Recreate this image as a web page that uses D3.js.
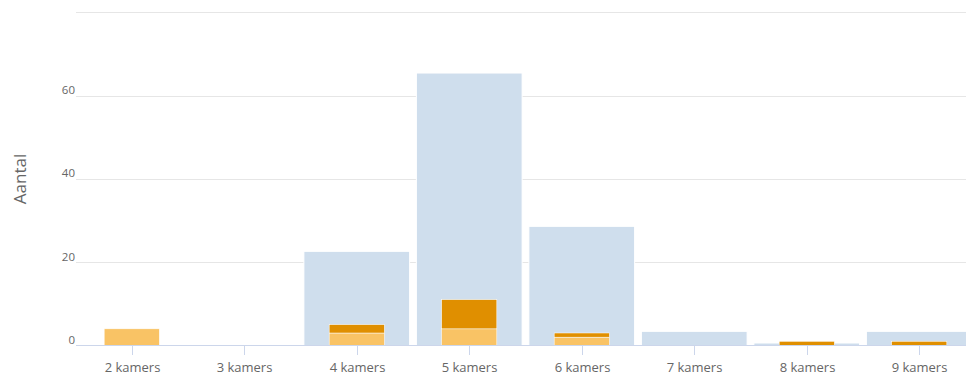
<!DOCTYPE html>
<html>
<head>
<meta charset="utf-8">
<script src="https://cdn.jsdelivr.net/npm/d3@7"></script>
<style>
  body { margin: 0; background: #fff; }
  svg { font-family: "Open Sans", Lato, sans-serif; display: block; }
</style>
</head>
<body>
<div id="chart"></div>
<script>
// categories on the x axis
const categories = ["2 kamers", "3 kamers", "4 kamers", "5 kamers", "6 kamers", "7 kamers", "8 kamers", "9 kamers"];
// wide light blue bars in the background
const backgroundValues = [0, 0, 22.6, 65.4, 28.6, 3.4, 0.6, 3.4];
// narrow stacked bars, bottom (light orange) and top (dark orange)
const lowerValues = [4, 0, 3, 4, 2, 0, 0, 0];
const upperValues = [0, 0, 2, 7, 1, 0, 1, 1];
const yTicks = [0, 20, 40, 60, 80];
const yLabelTicks = [0, 20, 40, 60];

const width = 966, height = 379;
const svg = d3.select("#chart").append("svg")
    .attr("width", width)
    .attr("height", height);

const x = d3.scaleBand().domain(categories).range([75.5, 975.5]).padding(0);
const y = d3.scaleLinear().domain([0, 80]).range([345.5, 12.2]);

// gridlines
svg.append("g")
    .selectAll("line")
    .data(yTicks.filter(d => d > 0))
    .join("line")
    .attr("x1", 76).attr("x2", width)
    .attr("y1", d => Math.round(y(d)) + 0.5)
    .attr("y2", d => Math.round(y(d)) + 0.5)
    .attr("stroke", "#e6e6e6");

// y labels
svg.append("g")
    .selectAll("text")
    .data(yLabelTicks)
    .join("text")
    .attr("x", 75)
    .attr("y", d => y(d) - 1.5)
    .attr("text-anchor", "end")
    .attr("fill", "#666")
    .style("font-size", "11.5px")
    .text(d => d);

// y axis title
svg.append("text")
    .attr("transform", "translate(26,179) rotate(-90)")
    .attr("text-anchor", "middle")
    .attr("fill", "#666")
    .style("font-size", "17px")
    .text("Aantal");

const bw = x.bandwidth();

// background bars
svg.append("g")
    .selectAll("rect")
    .data(categories)
    .join("rect")
    .attr("x", d => x(d) + bw * 0.03)
    .attr("width", bw * 0.94)
    .attr("y", (d, i) => y(backgroundValues[i]))
    .attr("height", (d, i) => y(0) - y(backgroundValues[i]))
    .attr("fill", "#cfdeed")
    .attr("stroke", "#fff")
    .attr("stroke-width", 1);

// stacked narrow bars
const stack = categories.map((c, i) => [
    { cat: c, y0: 0, y1: lowerValues[i], color: "#f9c365" },
    { cat: c, y0: lowerValues[i], y1: lowerValues[i] + upperValues[i], color: "#e08f00" }
]).flat().filter(d => d.y1 > d.y0);

svg.append("g")
    .selectAll("rect")
    .data(stack)
    .join("rect")
    .attr("x", d => x(d.cat) + bw * 0.255)
    .attr("width", bw * 0.49)
    .attr("y", d => y(d.y1))
    .attr("height", d => y(d.y0) - y(d.y1))
    .attr("fill", d => d.color)
    .attr("stroke", "#fff")
    .attr("stroke-width", 0.5);

// x axis line
svg.append("line")
    .attr("x1", 76).attr("x2", width)
    .attr("y1", 345.5).attr("y2", 345.5)
    .attr("stroke", "#ccd6eb");

// x ticks and labels
const xt = svg.append("g")
    .selectAll("g")
    .data(categories)
    .join("g")
    .attr("transform", d => `translate(${Math.round(x(d) + bw / 2) + 0.5},0)`);

xt.append("line")
    .attr("y1", 345.5).attr("y2", 355)
    .attr("stroke", "#ccd6eb");

xt.append("text")
    .attr("y", 372)
    .attr("text-anchor", "middle")
    .attr("fill", "#666")
    .style("font-size", "13px")
    .text(d => d);
</script>
</body>
</html>
